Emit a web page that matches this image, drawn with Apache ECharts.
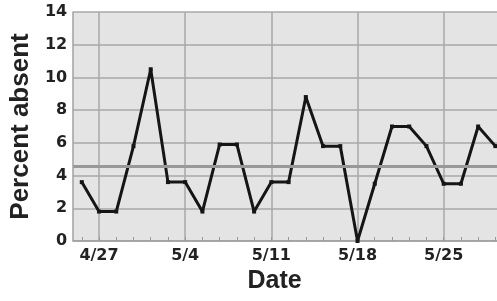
<!DOCTYPE html>
<html>
<head>
<meta charset="utf-8">
<script src="https://cdn.jsdelivr.net/npm/echarts@6/dist/echarts.min.js"></script>
<style>
  html, body { margin: 0; padding: 0; background: #fff; overflow: hidden; }
  #absent { width: 504px; height: 301px; }
</style>
</head>
<body>
<div id="absent"></div>
<script>
// school days (weekdays only), labels shown on Mondays
var days = ["4/24", "4/27", "4/28", "4/29", "4/30", "5/1",
  "5/4", "5/5", "5/6", "5/7", "5/8",
  "5/11", "5/12", "5/13", "5/14", "5/15",
  "5/18", "5/19", "5/20", "5/21", "5/22",
  "5/25", "5/26", "5/27", "5/28"];
var mondays = ["4/27", "5/4", "5/11", "5/18", "5/25"];
var percentAbsent = [3.6, 1.8, 1.8, 5.8, 10.5, 3.6,
  3.6, 1.8, 5.9, 5.9, 1.8,
  3.6, 3.6, 8.8, 5.8, 5.8,
  0, 3.5, 7.0, 7.0, 5.8,
  3.5, 3.5, 7.0, 5.8];
var meanLine = 4.6;
var yTicks = [0, 14, 2]; // min, max, step

var gridColor = "#a9a9a9";
var isMonday = function (idx, val) { return mondays.indexOf(days[idx]) >= 0; };

var chart = echarts.init(document.getElementById("absent"));
chart.setOption({
  animation: false,
  grid: {
    left: 73, right: 0, top: 12, bottom: 60,
    show: true, backgroundColor: "#e4e4e4", borderWidth: 0
  },
  xAxis: {
    type: "category",
    data: days,
    boundaryGap: true,
    name: "Date",
    nameLocation: "middle",
    nameGap: 27,
    nameTextStyle: {
      fontFamily: "Liberation Sans", fontWeight: "bold", fontSize: 25,
      color: "#222", padding: [0, 28, 0, 0]
    },
    axisLine: { lineStyle: { color: "#a0a0a0", width: 1.5 } },
    axisTick: { show: true, inside: true, alignWithLabel: true, interval: 0, length: 4,
      lineStyle: { color: "#999" } },
    axisLabel: {
      interval: isMonday,
      margin: 7,
      fontFamily: "DejaVu Sans", fontWeight: "bold", fontSize: 16, color: "#222"
    },
    splitLine: { show: true, interval: isMonday, alignWithLabel: true,
      lineStyle: { color: gridColor, width: 1.5 } }
  },
  yAxis: {
    type: "value",
    min: yTicks[0], max: yTicks[1], interval: yTicks[2],
    name: "Percent absent",
    nameLocation: "middle",
    nameGap: 36,
    nameTextStyle: {
      fontFamily: "Liberation Sans", fontWeight: "bold", fontSize: 26, color: "#222"
    },
    axisLine: { show: true, lineStyle: { color: "#a0a0a0", width: 1.5 } },
    axisTick: { show: false },
    axisLabel: {
      margin: 6,
      fontFamily: "DejaVu Sans", fontWeight: "bold", fontSize: 16, color: "#222"
    },
    splitLine: { show: true, lineStyle: { color: gridColor, width: 1.5 } }
  },
  series: [
    {
      type: "line",
      data: percentAbsent,
      symbol: "rect",
      symbolSize: 4,
      showAllSymbol: true,
      lineStyle: { color: "#151515", width: 3 },
      itemStyle: { color: "#151515" },
      markLine: {
        silent: true,
        symbol: "none",
        label: { show: false },
        lineStyle: { color: "#989898", width: 3, type: "solid" },
        data: [{ yAxis: meanLine }]
      }
    }
  ]
});
</script>
</body>
</html>
